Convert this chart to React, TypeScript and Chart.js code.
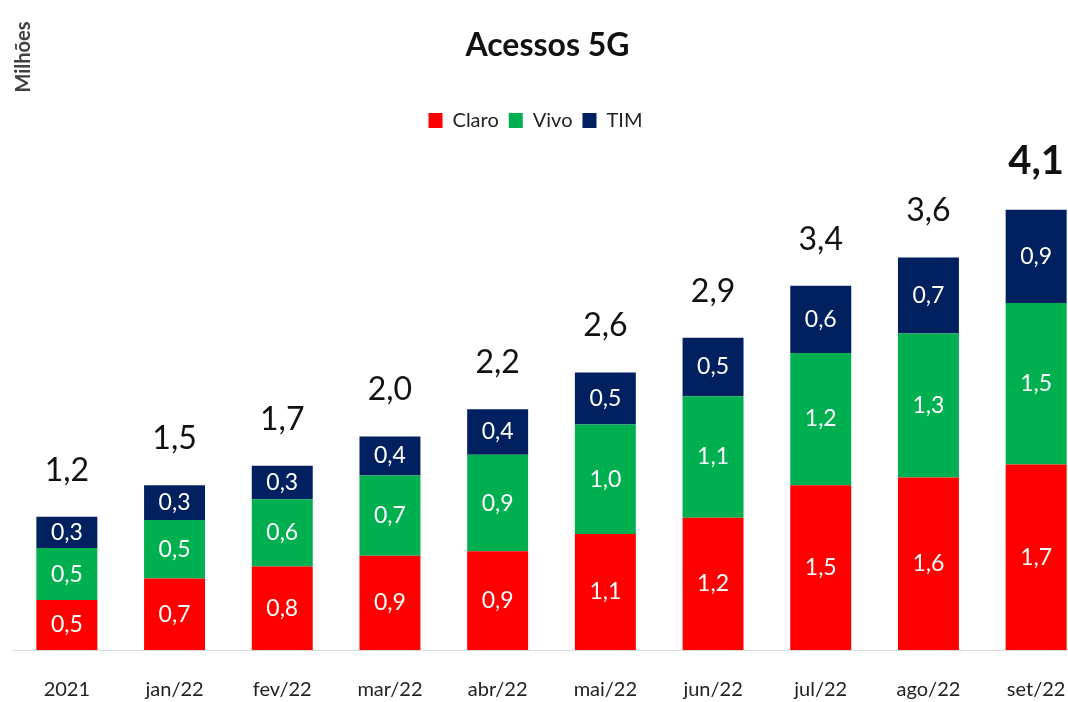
import React, { useEffect, useRef } from "react";
import { Chart, registerables } from "chart.js";

Chart.register(...registerables);

const categories = ["2021", "jan/22", "fev/22", "mar/22", "abr/22", "mai/22", "jun/22", "jul/22", "ago/22", "set/22"];
const claro = [0.46, 0.66, 0.77, 0.87, 0.91, 1.07, 1.22, 1.52, 1.59, 1.71];
const vivo = [0.48, 0.54, 0.62, 0.74, 0.89, 1.01, 1.12, 1.22, 1.33, 1.49];
const tim = [0.29, 0.32, 0.31, 0.36, 0.42, 0.48, 0.54, 0.62, 0.70, 0.86];

const FONT = "Lato, 'Open Sans', sans-serif";
const fmt = (v: number) => (Math.round(v * 100) / 100).toFixed(1).replace(".", ",");

const labelsPlugin = {
  id: "barLabels",
  afterDatasetsDraw(chart: any) {
    const ctx = chart.ctx;
    ctx.save();
    ctx.textAlign = "center";
    chart.data.datasets.forEach((ds: any, di: number) => {
      const meta = chart.getDatasetMeta(di);
      meta.data.forEach((bar: any, i: number) => {
        const cy = (bar.y + bar.base) / 2;
        ctx.fillStyle = "#ffffff";
        ctx.font = `23px ${FONT}`;
        ctx.textBaseline = "middle";
        ctx.fillText(fmt(ds.data[i]), bar.x, cy);
      });
    });
    const last = chart.getDatasetMeta(chart.data.datasets.length - 1);
    last.data.forEach((bar: any, i: number) => {
      let sum = 0;
      chart.data.datasets.forEach((ds: any) => (sum += ds.data[i]));
      const isLast = i === last.data.length - 1;
      ctx.fillStyle = "#111111";
      ctx.font = isLast ? `bold 40px ${FONT}` : `32px ${FONT}`;
      ctx.textBaseline = "alphabetic";
      ctx.fillText(fmt(sum), bar.x, bar.y - 36);
    });
    ctx.restore();
  },
};

const unitPlugin = {
  id: "unitLabel",
  afterLayout(chart: any) {
    // nudge legend and title to match reference placement
    if (chart.legend) {
      chart.legend.left -= 16;
      chart.legend.right -= 16;
    }
    if (chart.titleBlock) {
      chart.titleBlock.left -= 4;
      chart.titleBlock.right -= 4;
    }
  },
  afterDraw(chart: any) {
    const ctx = chart.ctx;
    ctx.save();
    ctx.translate(24, 57);
    ctx.rotate(-Math.PI / 2);
    ctx.textAlign = "center";
    ctx.textBaseline = "middle";
    ctx.font = `bold 20px ${FONT}`;
    ctx.fillStyle = "#404040";
    ctx.fillText("Milhões", 0, 0);
    ctx.restore();
  },
};

export default function App() {
  const ref = useRef<HTMLCanvasElement | null>(null);
  useEffect(() => {
    if (!ref.current) return;
    const chart = new Chart(ref.current, {
      type: "bar",
      data: {
        labels: categories,
        datasets: [
          { label: "Claro", data: claro, backgroundColor: "#FF0000" },
          { label: "Vivo", data: vivo, backgroundColor: "#00B050" },
          { label: "TIM", data: tim, backgroundColor: "#002060" },
        ],
      },
      options: {
        animation: false,
        responsive: true,
        maintainAspectRatio: false,
        layout: { padding: { left: 13, right: 10, top: 0, bottom: -28 } },
        datasets: { bar: { barPercentage: 0.566, categoryPercentage: 1 } },
        scales: {
          x: {
            stacked: true,
            grid: { display: false, drawTicks: false },
            border: { display: true, color: "#d9d9d9", width: 1 },
            ticks: { color: "#222222", font: { family: FONT, size: 20 }, padding: 28 },
          },
          y: {
            stacked: true,
            display: false,
            min: 0,
            max: 4.7,
          },
        },
        plugins: {
          title: {
            display: true,
            text: "Acessos 5G",
            color: "#111111",
            font: { family: FONT, size: 32, weight: "bold" },
            padding: { top: 26, bottom: 36 },
          },
          legend: {
            display: true,
            position: "top",
            labels: {
              color: "#222222",
              font: { family: FONT, size: 20 },
              boxWidth: 14,
              boxHeight: 15,
              padding: 10,
            },
          },
          tooltip: { enabled: false },
        },
      },
      plugins: [labelsPlugin, unitPlugin],
    });
    return () => chart.destroy();
  }, []);
  return (
    <div style={{ position: "fixed", left: 0, top: 0, width: 1100, height: 702, background: "#fff" }}>
      <canvas ref={ref} />
    </div>
  );
}
